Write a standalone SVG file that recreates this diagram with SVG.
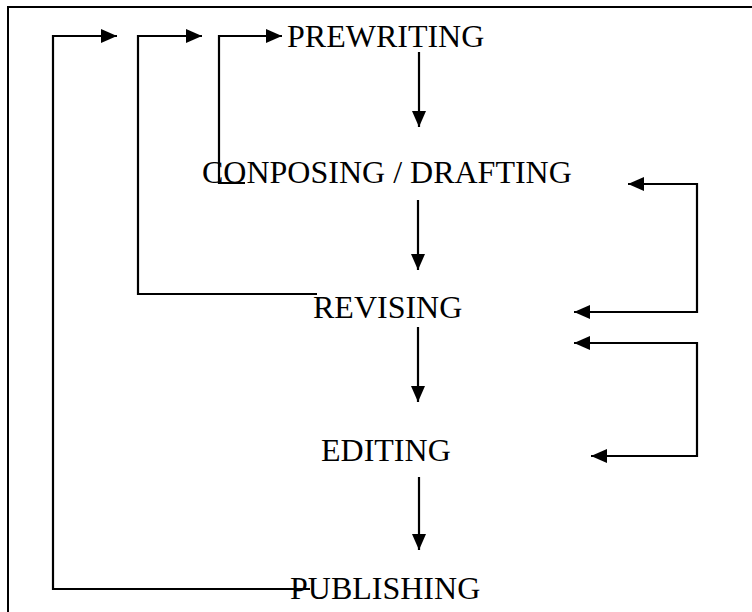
<svg xmlns="http://www.w3.org/2000/svg" width="752" height="612" viewBox="0 0 752 612">
<defs>
<marker id="ah" markerUnits="userSpaceOnUse" markerWidth="17" markerHeight="14" refX="16" refY="7" orient="auto-start-reverse" viewBox="0 0 17 14">
<path d="M0,0 L16,7 L0,14 z" fill="#000"/>
</marker>
<style>
.lbl{font-family:"Liberation Serif","Times New Roman",serif;font-size:32px;fill:#000}
.c{fill:none;stroke:#000;stroke-width:2.2}
.a{marker-end:url(#ah)}
.b{marker-start:url(#ah);marker-end:url(#ah)}
</style>
</defs>
<rect width="752" height="612" fill="#fff"/>
<path d="M8,612 V7 H752" fill="none" stroke="#000" stroke-width="2"/>
<g id="connectors">
<path class="c a" d="M419,52 V127"/>
<path class="c a" d="M418,200 V270"/>
<path class="c a" d="M418,327 V402"/>
<path class="c a" d="M419,477 V550"/>
<path class="c a" d="M245,183 H219 V36 H282"/>
<path class="c a" d="M317,294 H138 V36 H202"/>
<path class="c a" d="M310,589 H53 V36 H117"/>
<path class="c b" d="M628,184 H697 V312 H574"/>
<path class="c b" d="M574,343 H697 V456 H591"/>
</g>
<g id="prewriting"><text class="lbl" x="287" y="47">PREWRITING</text></g>
<g id="composing"><text class="lbl" x="202" y="183">CONPOSING / DRAFTING</text></g>
<g id="revising"><text class="lbl" x="313" y="318">REVISING</text></g>
<g id="editing"><text class="lbl" x="321" y="461">EDITING</text></g>
<g id="publishing"><text class="lbl" x="290" y="599">PUBLISHING</text></g>
</svg>
